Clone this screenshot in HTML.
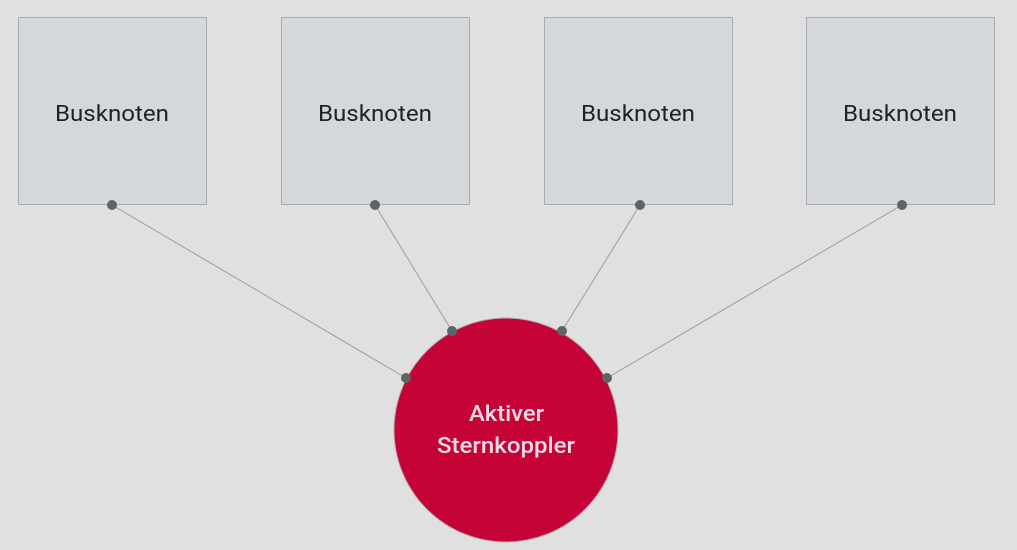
<!DOCTYPE html>
<html><head><meta charset="utf-8"><style>
html,body{margin:0;padding:0;background:#e0e0e0;}
svg{display:block}
</style></head><body>
<svg width="1017" height="550" viewBox="0 0 1017 550" xmlns="http://www.w3.org/2000/svg">
<rect width="1017" height="550" fill="#e0e0e0"/>
<g fill="#d5d8db" stroke="#a9adb1" stroke-width="1">
<rect x="18.5" y="17.5" width="188" height="187"/>
<rect x="281.5" y="17.5" width="188" height="187"/>
<rect x="544.5" y="17.5" width="188" height="187"/>
<rect x="806.5" y="17.5" width="188" height="187"/>
</g>
<g font-family="Roboto, 'Liberation Sans', sans-serif" font-size="22" fill="#222">
<text x="55" y="121" textLength="114" lengthAdjust="spacingAndGlyphs">Busknoten</text>
<text x="318" y="121" textLength="114" lengthAdjust="spacingAndGlyphs">Busknoten</text>
<text x="581" y="121" textLength="114" lengthAdjust="spacingAndGlyphs">Busknoten</text>
<text x="843" y="121" textLength="114" lengthAdjust="spacingAndGlyphs">Busknoten</text>
</g>
<g stroke="#9a9ea2" stroke-width="1">
<line x1="112" y1="205" x2="406" y2="378"/>
<line x1="375" y1="205" x2="452" y2="331"/>
<line x1="640" y1="205" x2="562" y2="331"/>
<line x1="902" y1="205" x2="607" y2="378"/>
</g>
<circle cx="506" cy="430" r="112" fill="#c50337" stroke="#b0b0b0" stroke-width="1"/>
<g font-family="Roboto, 'Liberation Sans', sans-serif" font-size="22" font-weight="500" fill="#f5dbe2">
<text x="469" y="421" textLength="75" lengthAdjust="spacingAndGlyphs">Aktiver</text>
<text x="437" y="453" textLength="138" lengthAdjust="spacingAndGlyphs">Sternkoppler</text>
</g>
<g fill="#5f6366">
<circle cx="112" cy="205" r="5"/><circle cx="375" cy="205" r="5"/>
<circle cx="640" cy="205" r="5"/><circle cx="902" cy="205" r="5"/>
<circle cx="406" cy="378" r="5"/><circle cx="452" cy="331" r="5"/>
<circle cx="562" cy="331" r="5"/><circle cx="607" cy="378" r="5"/>
</g>
</svg>
</body></html>
